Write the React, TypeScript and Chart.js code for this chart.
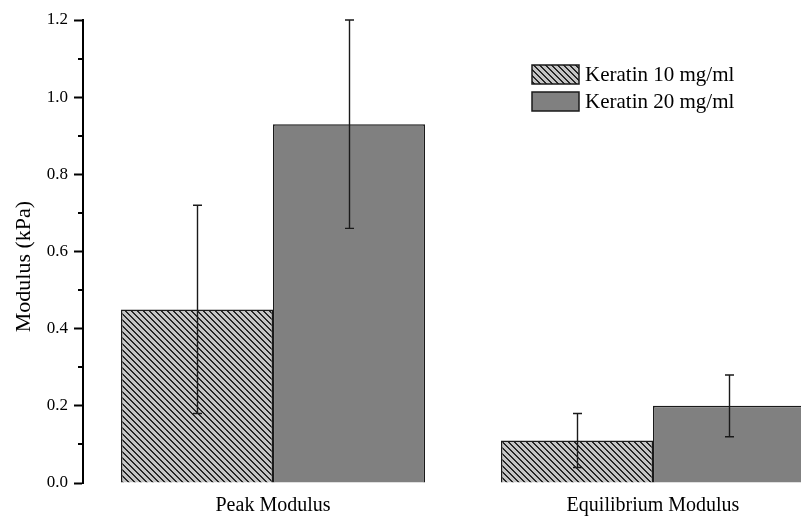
import { useEffect, useRef } from "react";
import { Chart, registerables } from "chart.js";

Chart.register(...registerables);

const categories = ["Peak Modulus", "Equilibrium Modulus"];
const seriesNames = ["Keratin 10 mg/ml", "Keratin 20 mg/ml"];
const keratin10 = [0.45, 0.11];
const keratin10Err = [0.27, 0.07];
const keratin20 = [0.93, 0.2];
const keratin20Err = [0.27, 0.08];
const yMajorTicks = [0, 0.2, 0.4, 0.6, 0.8, 1.0, 1.2];
const yMinorTicks = [0.1, 0.3, 0.5, 0.7, 0.9, 1.1];
const yTitle = "Modulus (kPa)";

const SERIF = '"Liberation Serif", "Times New Roman", Times, serif';
const INK = "#1a1a1a";
const SOLID_FILL = "#808080";

// Light grey tile crossed by dark "\" diagonals
function makeHatch(): CanvasPattern | string {
  const size = 6;
  const tile = document.createElement("canvas");
  tile.width = size;
  tile.height = size;
  const t = tile.getContext("2d");
  if (!t) return "#a0a0a0";
  t.fillStyle = "#c4c4c4";
  t.fillRect(0, 0, size, size);
  t.fillStyle = "#262626";
  for (let i = 0; i < size; i++) {
    t.fillRect(i, i, 1, 1);
    t.fillRect((i + 1) % size, i, 1, 1);
  }
  const ctx = document.createElement("canvas").getContext("2d");
  return (ctx && ctx.createPattern(tile, "repeat")) || "#a0a0a0";
}

export default function App() {
  const canvasRef = useRef<HTMLCanvasElement | null>(null);

  useEffect(() => {
    const canvas = canvasRef.current;
    if (!canvas) return;
    const hatch = makeHatch();
    const errors = [keratin10Err, keratin20Err];
    const fills = [hatch, SOLID_FILL];

    const errorBars = {
      id: "errorBars",
      afterDatasetsDraw(chart: any) {
        const { ctx } = chart;
        const y = chart.scales.y;
        ctx.save();
        ctx.strokeStyle = INK;
        ctx.lineWidth = 1.4;
        chart.data.datasets.forEach((ds: any, di: number) => {
          const meta = chart.getDatasetMeta(di);
          meta.data.forEach((bar: any, i: number) => {
            const v = ds.data[i];
            const e = errors[di][i];
            const x = Math.round(bar.x) + 0.5;
            const yHi = y.getPixelForValue(v + e);
            const yLo = y.getPixelForValue(v - e);
            const half = 4.5;
            ctx.beginPath();
            ctx.moveTo(x, yHi);
            ctx.lineTo(x, yLo);
            ctx.moveTo(x - half, yHi);
            ctx.lineTo(x + half, yHi);
            ctx.moveTo(x - half, yLo);
            ctx.lineTo(x + half, yLo);
            ctx.stroke();
          });
        });
        ctx.restore();
      },
    };

    const minorTicks = {
      id: "minorTicks",
      afterDraw(chart: any) {
        const { ctx } = chart;
        const y = chart.scales.y;
        const x0 = chart.chartArea.left;
        ctx.save();
        ctx.strokeStyle = "#000";
        ctx.lineWidth = 2;
        yMinorTicks.forEach((v) => {
          const py = Math.round(y.getPixelForValue(v));
          ctx.beginPath();
          ctx.moveTo(x0 - 5, py);
          ctx.lineTo(x0, py);
          ctx.stroke();
        });
        ctx.restore();
      },
    };

    const axisTitle = {
      id: "axisTitle",
      afterDraw(chart: any) {
        const { ctx } = chart;
        const area = chart.chartArea;
        ctx.save();
        ctx.translate(24, (area.top + area.bottom) / 2 + 15);
        ctx.rotate(-Math.PI / 2);
        ctx.fillStyle = "#000";
        ctx.font = `22px ${SERIF}`;
        ctx.textAlign = "center";
        ctx.textBaseline = "middle";
        ctx.fillText(yTitle, 0, 0);
        ctx.restore();
      },
    };

    const boxLegend = {
      id: "boxLegend",
      afterDraw(chart: any) {
        const { ctx } = chart;
        const boxX = 532;
        const boxW = 47;
        const boxH = 19;
        const rowTop = [65, 92];
        ctx.save();
        seriesNames.forEach((name, i) => {
          const top = rowTop[i];
          ctx.fillStyle = fills[i] as any;
          ctx.fillRect(boxX, top, boxW, boxH);
          ctx.strokeStyle = INK;
          ctx.lineWidth = 1.5;
          ctx.strokeRect(boxX, top, boxW, boxH);
          ctx.fillStyle = "#000";
          ctx.font = `21px ${SERIF}`;
          ctx.textAlign = "left";
          ctx.textBaseline = "middle";
          ctx.fillText(name, boxX + boxW + 6, top + boxH / 2 + 1);
        });
        ctx.restore();
      },
    };

    const chart = new Chart(canvas, {
      type: "bar",
      data: {
        labels: categories,
        datasets: [
          {
            label: seriesNames[0],
            data: keratin10,
            backgroundColor: hatch as any,
            borderColor: INK,
            borderWidth: 1.5,
          },
          {
            label: seriesNames[1],
            data: keratin20,
            backgroundColor: SOLID_FILL,
            borderColor: INK,
            borderWidth: 1.5,
          },
        ],
      },
      options: {
        animation: false,
        responsive: false,
        maintainAspectRatio: false,
        layout: { padding: { top: 20, right: 7, left: 0, bottom: 0 } },
        datasets: { bar: { categoryPercentage: 0.8, barPercentage: 1.0 } },
        plugins: {
          legend: { display: false },
          tooltip: { enabled: false },
        },
        scales: {
          x: {
            grid: { display: false, drawTicks: false },
            border: { display: false },
            ticks: {
              padding: 11,
              color: "#000",
              font: { family: SERIF, size: 20 },
              maxRotation: 0,
            },
            afterFit(scale: any) {
              scale.height = 33;
            },
          },
          y: {
            min: 0,
            max: 1.2,
            afterBuildTicks(scale: any) {
              scale.ticks = yMajorTicks.map((v) => ({ value: v }));
            },
            afterFit(scale: any) {
              scale.width = 83;
            },
            grid: {
              drawOnChartArea: false,
              drawTicks: true,
              tickLength: 9,
              tickWidth: 2,
              tickColor: "#000",
            },
            border: { display: true, width: 2, color: "#000" },
            ticks: {
              padding: 6,
              color: "#000",
              font: { family: SERIF, size: 17 },
              callback: (v: any) => Number(v).toFixed(1),
            },
          },
        },
      },
      plugins: [errorBars, minorTicks, axisTitle, boxLegend],
    });

    return () => chart.destroy();
  }, []);

  return (
    <div
      style={{
        position: "absolute",
        left: 0,
        top: 0,
        width: 801,
        height: 516,
        overflow: "hidden",
        background: "#fff",
      }}
    >
      <canvas ref={canvasRef} width={850} height={516} style={{ display: "block" }} />
    </div>
  );
}
